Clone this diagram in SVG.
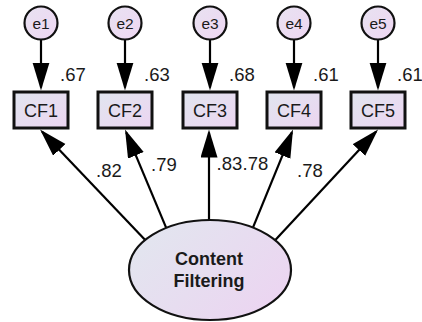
<svg xmlns="http://www.w3.org/2000/svg" width="422" height="322" viewBox="0 0 422 322">
  <defs>
    <linearGradient id="boxFill" x1="0" y1="0" x2="1" y2="1">
      <stop offset="0" stop-color="#e1e5ef"/>
      <stop offset="1" stop-color="#ecd5f1"/>
    </linearGradient>
    <linearGradient id="latentFill" x1="0" y1="0.2" x2="1" y2="0.8">
      <stop offset="0" stop-color="#e2e6ef"/>
      <stop offset="1" stop-color="#ecd4f1"/>
    </linearGradient>
    <linearGradient id="errFill" x1="0" y1="0" x2="1" y2="1">
      <stop offset="0" stop-color="#e8e2f1"/>
      <stop offset="1" stop-color="#eed6f2"/>
    </linearGradient>
    <marker id="head" markerUnits="userSpaceOnUse" markerWidth="30" markerHeight="18" refX="25" refY="8.5" orient="auto">
      <path d="M0,0 L28,8.5 L0,17 Z" fill="#000"/>
    </marker>
  </defs>
  <style>
    .obs rect { fill: url(#boxFill); stroke: #111; stroke-width: 3; }
    .err circle { fill: url(#errFill); stroke: #111; stroke-width: 2.2; }
    .lat ellipse { fill: url(#latentFill); stroke: #111; stroke-width: 2.2; }
    .conn line { stroke: #000; stroke-width: 2.2; marker-end: url(#head); }
    text { font-family: "Liberation Sans", Arial, sans-serif; fill: #1a1a1a; }
    .box-t { font-size: 18px; text-anchor: middle; }
    .err-t { font-size: 15.5px; text-anchor: middle; }
    .lat-t { font-size: 18px; font-weight: bold; text-anchor: middle; }
    .coef { font-size: 18.5px; }
  </style>

  <!-- paths: errors to indicators, factor to indicators -->
  <g id="connectors" class="conn">
    <line x1="41" y1="40" x2="41" y2="87.5"/>
    <line x1="125" y1="40" x2="125" y2="87.5"/>
    <line x1="210" y1="40" x2="210" y2="87.5"/>
    <line x1="294" y1="40" x2="294" y2="87.5"/>
    <line x1="378" y1="40" x2="378" y2="87.5"/>

    <line x1="149" y1="244" x2="42.1" y2="131.7"/>
    <line x1="168.1" y1="232.4" x2="126.2" y2="132.3"/>
    <line x1="209" y1="228" x2="209" y2="132.5"/>
    <line x1="251" y1="232.4" x2="291.9" y2="132.3"/>
    <line x1="271.6" y1="243.9" x2="376" y2="131.7"/>
  </g>

  <!-- error terms -->
  <g id="e1" class="err"><circle cx="41" cy="23" r="16.5"/><text class="err-t" x="41" y="28.5">e1</text></g>
  <g id="e2" class="err"><circle cx="125" cy="23" r="16.5"/><text class="err-t" x="125" y="28.5">e2</text></g>
  <g id="e3" class="err"><circle cx="210" cy="23" r="16.5"/><text class="err-t" x="210" y="28.5">e3</text></g>
  <g id="e4" class="err"><circle cx="294" cy="23" r="16.5"/><text class="err-t" x="294" y="28.5">e4</text></g>
  <g id="e5" class="err"><circle cx="378" cy="23" r="16.5"/><text class="err-t" x="378" y="28.5">e5</text></g>

  <!-- observed indicators -->
  <g id="CF1" class="obs"><rect x="14" y="92" width="54" height="36"/><text class="box-t" x="41" y="116.5">CF1</text></g>
  <g id="CF2" class="obs"><rect x="98" y="92" width="54" height="36"/><text class="box-t" x="125" y="116.5">CF2</text></g>
  <g id="CF3" class="obs"><rect x="183" y="92" width="54" height="36"/><text class="box-t" x="210" y="116.5">CF3</text></g>
  <g id="CF4" class="obs"><rect x="267" y="92" width="54" height="36"/><text class="box-t" x="294" y="116.5">CF4</text></g>
  <g id="CF5" class="obs"><rect x="351" y="92" width="54" height="36"/><text class="box-t" x="378" y="116.5">CF5</text></g>

  <!-- latent factor -->
  <g id="ContentFiltering" class="lat">
    <ellipse cx="210" cy="270" rx="81" ry="50"/>
    <text class="lat-t" x="209" y="265">Content</text>
    <text class="lat-t" x="209" y="287">Filtering</text>
  </g>

  <!-- squared multiple correlations -->
  <g id="r2-labels" class="coef">
    <text x="60" y="81">.67</text>
    <text x="144" y="81">.63</text>
    <text x="229" y="81">.68</text>
    <text x="313" y="81">.61</text>
    <text x="397" y="81">.61</text>
  </g>

  <!-- standardized loadings -->
  <g id="loading-labels" class="coef">
    <text x="96" y="177">.82</text>
    <text x="151" y="171">.79</text>
    <text x="216.5" y="170">.83</text>
    <text x="242.5" y="170">.78</text>
    <text x="297" y="177">.78</text>
  </g>
</svg>
